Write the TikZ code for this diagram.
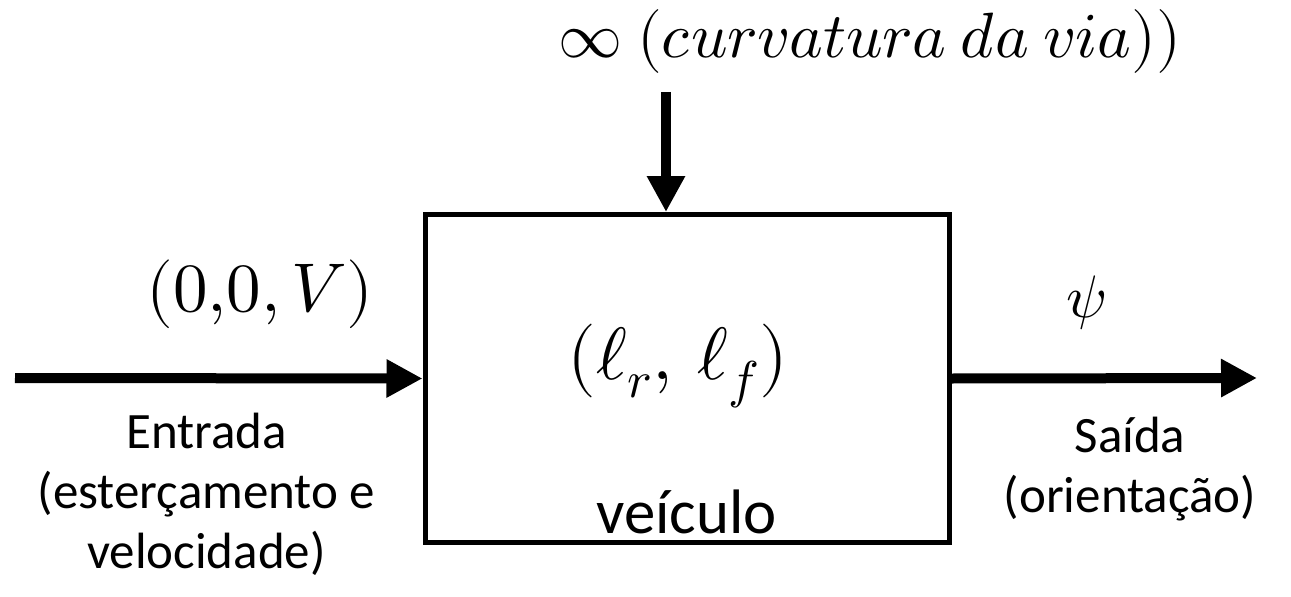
\documentclass[tikz,border=0pt]{standalone}
\usepackage{amsmath}
\usepackage{fontspec}
\usepackage{unicode-math}
\setmainfont{Carlito}
\usepackage{tikz}
\usetikzlibrary{arrows.meta}
\usetikzlibrary{positioning}

\begin{document}
\begin{tikzpicture}[x=0.5pt,y=0.5pt]
              \tikzset{>={Triangle[length=18pt,width=18pt]}}
              \tikzstyle{flow}=[->,line width=5pt,black]
              \tikzstyle{block}=[draw,line width=2.5pt,minimum width=262pt,minimum height=164pt,inner sep=0pt]
              \tikzstyle{txt}=[align=center,font=\fontsize{25.5}{30}\selectfont,inner sep=0pt,anchor=base]
              \tikzstyle{mth}=[font=\fontsize{34.5}{40}\selectfont,inner sep=0pt,anchor=base]

              % CONSTANTS
              \useasboundingbox (0,0) rectangle (1291,596);
              \coordinate (in) at (15,218);
              \coordinate (out) at (1257,218);
              \coordinate (top) at (666,504);

              % BLOCK
              \node[block] (veiculo) at (687,217.5) {};
              \node[mth,font=\fontsize{37}{40}\selectfont] (param) at (678,217) {$(\ell_r,\,\ell_f)$};
              \node[txt,font=\fontsize{31.4}{36}\selectfont] (nome) at (686.5,63) {veículo};

              % CONNECTORS
              \draw[flow] (in) -- (veiculo.west);
              \draw[flow] (veiculo.east) -- (out);
              \draw[flow] (top) -- (top |- veiculo.north);

              % LABELS
              \node[mth,font=\fontsize{32}{36}\selectfont] (curv) at (870,538.5) {$\infty\ (curvatura\ da\ via))$};
              \node[mth] (entr) at (260,285) {$(0{,}0,V)$};
              \node[mth,font=\fontsize{30}{36}\selectfont] (psi) at (1086,279) {$\psi$};
              \node[txt] (entrada) at (206.5,28) {Entrada\\(esterçamento e\\velocidade)};
              \node[txt] (saida) at (1130,84) {Saída\\(orientação)};
            \end{tikzpicture}
\end{document}
